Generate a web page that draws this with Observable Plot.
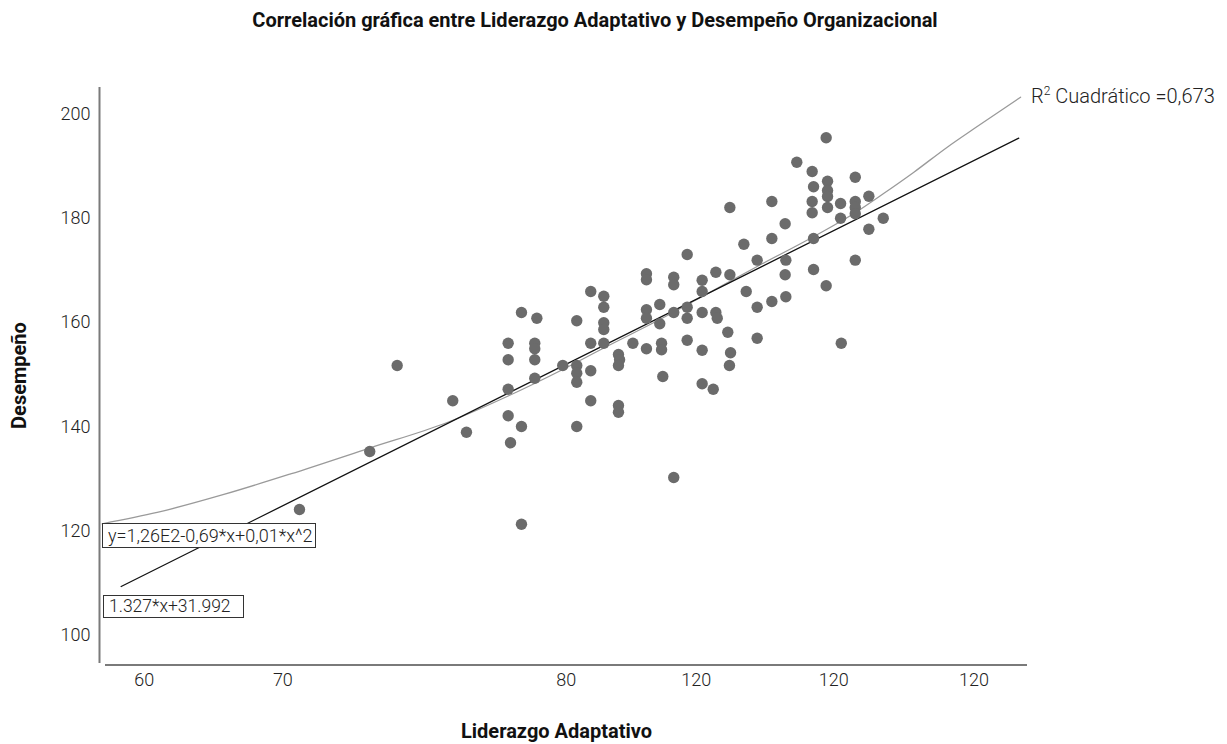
<!DOCTYPE html>
<html>
<head>
<meta charset="utf-8">
<script src="https://cdn.jsdelivr.net/npm/d3@7"></script>
<script src="https://cdn.jsdelivr.net/npm/@observablehq/plot@0.6"></script>
<style>
  html, body { margin:0; padding:0; background:#fff; }
  body { width:1227px; height:744px; position:relative; overflow:hidden; font-family:Roboto, "DejaVu Sans", sans-serif; color:#222; }
  #title { height:40px; line-height:40px; width:1190px; text-align:center; font-weight:700; font-size:20px; color:#111; }
  .box { position:absolute; box-sizing:border-box; border:1px solid #333; background:#fff; font-weight:300; color:#222; white-space:nowrap; padding-left:5px; }
  #r2 { position:absolute; left:1031px; top:84px; font-size:20px; line-height:24px; font-weight:300; color:#222; white-space:nowrap; }
  #r2 sup { font-size:12px; vertical-align:8px; line-height:0; }
</style>
</head>
<body>
<div id="title">Correlación gráfica entre Liderazgo Adaptativo y Desempeño Organizacional</div>
<div id="chart"></div>
<div class="box" style="left:102px; top:523px; width:214px; height:25px; line-height:23px; font-size:18px;">y=1,26E2-0,69*x+0,01*x^2</div>
<div class="box" style="left:103px; top:595px; width:141px; height:23px; line-height:21px; font-size:17.5px;">1.327*x+31.992</div>
<div id="r2">R<sup>2</sup> Cuadrático =0,673</div>
<script>
// Scatter data: Liderazgo Adaptativo (x) vs Desempeño (y)
const liderazgo = [
  71.2, 76.27, 78.25, 82.26, 83.25,
  86.26, 86.26, 86.26, 86.26, 86.43,
  87.22, 87.22, 87.22, 88.33, 88.18, 88.18, 88.18, 88.18,
  90.2, 91.21, 91.21, 91.21, 91.21, 91.21,
  92.22, 92.22, 92.22, 92.22,
  93.16, 93.16, 93.16, 93.16, 93.16,
  94.22, 94.3, 94.22, 94.22, 94.22, 95.26,
  96.24, 96.24, 96.24, 96.24, 96.24,
  97.2, 97.2, 97.33, 97.33, 97.42,
  98.21, 98.21, 98.21, 98.21,
  99.18, 99.18, 99.18, 99.18,
  100.26, 100.26, 100.26, 100.26, 100.26,
  101.25, 101.25, 101.35, 101.06,
  102.11, 102.26, 102.26, 102.31, 102.23,
  103.27, 103.44,
  104.23, 104.23, 104.23,
  105.29, 105.29, 105.29,
  106.25, 106.3, 106.25, 106.3,
  107.09,
  108.2, 108.3, 108.2, 108.2, 108.3, 108.3,
  109.21, 109.31, 109.31, 109.31, 109.31, 109.21,
  110.25, 110.25, 110.3,
  111.31, 111.31, 111.31, 111.31, 111.31,
  112.29, 112.29, 113.33
];
const desempeno = [
  124.16, 135.28, 151.77, 145.0, 138.98,
  156.05, 152.87, 147.23, 142.13, 136.95,
  161.94, 140.08, 121.34, 160.84, 156.05, 154.98, 152.87, 149.34,
  151.77, 160.35, 151.77, 150.3, 148.57, 140.08,
  165.96, 156.05, 150.76, 145.0,
  165.06, 162.95, 159.96, 158.68, 156.05,
  153.88, 152.87, 151.77, 144.1, 142.82, 156.05,
  169.36, 168.21, 162.45, 160.84, 154.98,
  163.47, 159.77, 156.05, 154.78, 149.66,
  168.71, 167.25, 161.94, 130.3,
  173.06, 162.95, 160.84, 156.62,
  168.13, 165.96, 161.94, 154.71, 148.26,
  169.66, 161.94, 160.84, 147.23,
  158.16, 182.07, 169.17, 154.21, 151.77,
  175.03, 165.96,
  171.97, 162.95, 157.01,
  183.22, 176.13, 164.05,
  178.95, 171.97, 169.17, 164.95,
  190.76,
  188.97, 186.04, 183.22, 181.06, 176.13, 170.18,
  195.44, 187.11, 185.33, 184.18, 182.07, 167.06,
  182.84, 180.02, 156.05,
  187.88, 183.22, 182.07, 180.86, 171.97,
  184.24, 177.91, 180.02
];

// Linear fit line (read at its two ends)
const linearX = [58.33, 123.11];
const linearY = [109.40, 195.36];

// Quadratic fit curve
const quadX = [56.96, 60.93, 65.74, 70.55, 76.27, 81.86, 86.26, 90.2, 93.16, 97.2, 100.14, 104.23, 108.32, 111.33, 113.33, 115.54, 117.95, 119.87, 123.24];
const quadY = [121.42, 123.59, 127.04, 130.97, 135.95, 140.84, 145.92, 151.01, 155.13, 160.59, 164.81, 170.76, 176.51, 181.11, 184.7, 188.84, 193.64, 197.16, 203.22];

// Axes
const xDomain = [57.2, 123.74];
const yDomain = [94.63, 205.08];
const xTickValues = [60, 70, 90.45, 99.83, 109.76, 119.87];
const xTickLabels = ["60", "70", "80", "120", "120", "120"];
const yTickValues = [100, 120, 140, 160, 180, 200];
const xLabel = "Liderazgo Adaptativo";
const yLabel = "Desempeño";

const points = liderazgo.map((x, i) => ({x, y: desempeno[i]}));
const linRows = linearX.map((x, i) => ({x, y: linearY[i]}));
const quadRows = quadX.map((x, i) => ({x, y: quadY[i]}));

const chart = Plot.plot({
  width: 1227,
  height: 704,
  marginLeft: 105,
  marginRight: 200,
  marginTop: 47,
  marginBottom: 81,
  style: {fontFamily: "Roboto, sans-serif", fontSize: "18px", color: "#222", background: "#fff", overflow: "visible"},
  x: {domain: xDomain},
  y: {domain: yDomain},
  marks: [
    Plot.ruleX([xDomain[0]], {dx: -6, stroke: "#7a7a7a", strokeWidth: 2}),
    Plot.ruleY([yDomain[0]], {dy: 1.5, stroke: "#7a7a7a", strokeWidth: 2}),
    Plot.axisX({ticks: xTickValues, tickFormat: d => xTickLabels[xTickValues.indexOf(d)], tickSize: 0, tickPadding: 10, label: null, fontWeight: 300, fontSize: 18}),
    Plot.axisY({ticks: yTickValues, tickSize: 0, tickPadding: 15, label: null, fontWeight: 300, fontSize: 18}),
    Plot.line(quadRows, {x: "x", y: "y", stroke: "#9a9a9a", strokeWidth: 1.3, curve: "monotone-x"}),
    Plot.line(linRows, {x: "x", y: "y", stroke: "#111", strokeWidth: 1.3}),
    Plot.dot(points, {x: "x", y: "y", r: 5.7, fill: "#6b6b6b", stroke: "none"}),
    Plot.text([yLabel], {frameAnchor: "left", dx: -86, rotate: -90, textAnchor: "middle", lineAnchor: "middle", fontWeight: 700, fontSize: 20, fill: "#111"}),
    Plot.text([xLabel], {frameAnchor: "bottom", dx: -10, dy: 68, textAnchor: "middle", lineAnchor: "middle", fontWeight: 700, fontSize: 20, fill: "#111"})
  ]
});
document.getElementById("chart").appendChild(chart);
</script>
</body>
</html>
